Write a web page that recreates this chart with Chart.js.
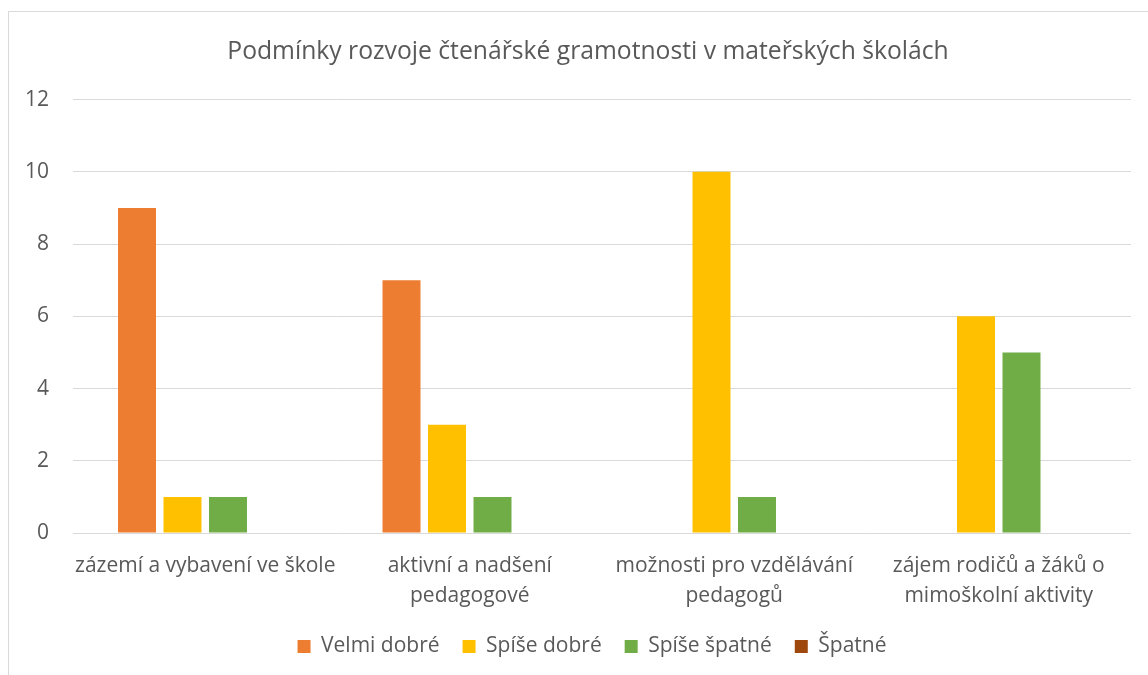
<!DOCTYPE html>
<html>
<head>
<meta charset="utf-8">
<script src="https://cdn.jsdelivr.net/npm/chart.js@4"></script>
<style>
  html, body { margin: 0; padding: 0; background: #fff; overflow: hidden; }
  #frame { position: absolute; left: 8px; top: 11px; width: 1158px; height: 700px; border: 1px solid #d9d9d9; background: #fff; }
  #wrap { position: absolute; left: 0; top: 0; width: 1158px; height: 663px; }
</style>
</head>
<body>
<div id="frame"><div id="wrap"><canvas id="c"></canvas></div></div>
<script>
const chartTitle = "Podmínky rozvoje čtenářské gramotnosti v mateřských školách";
const categories = [
  ["zázemí a vybavení ve škole"],
  ["aktivní a nadšení", "pedagogové"],
  ["možnosti pro vzdělávání", "pedagogů"],
  ["zájem rodičů a žáků o", "mimoškolní aktivity"]
];
const seriesNames = ["Velmi dobré", "Spíše dobré", "Spíše špatné", "Špatné"];
const velmiDobre = [9, 7, 0, 0];
const spiseDobre = [1, 3, 10, 6];
const spiseSpatne = [1, 1, 1, 5];
const spatne = [0, 0, 0, 0];
const seriesColors = ["#ED7D31", "#FFC000", "#70AD47", "#9E480E"];
const yTicks = [0, 2, 4, 6, 8, 10, 12];

const FONT = "'Open Sans', sans-serif";
const TEXT = "#595959";
const GRID = "#d9d9d9";

const seriesValues = [velmiDobre, spiseDobre, spiseSpatne, spatne];

// centre title and legend on the whole frame (as in the reference), not on the padded area
const centreShift = {
  id: 'centreShift',
  afterLayout(chart) {
    const dx = 18;
    [chart.titleBlock, chart.legend].forEach(b => {
      if (b) { b.left += dx; b.right += dx; }
    });
    if (chart.legend) { chart.legend.left += 4; chart.legend.right += 4; }
  }
};

new Chart(document.getElementById('c'), {
  type: 'bar',
  data: {
    labels: categories,
    datasets: seriesNames.map((n, i) => ({
      label: n,
      data: seriesValues[i],
      backgroundColor: seriesColors[i],
      borderWidth: 0,
      barPercentage: 0.835,
      categoryPercentage: 0.688
    }))
  },
  options: {
    responsive: true,
    maintainAspectRatio: false,
    animation: false,
    layout: { padding: { left: 0, right: 36, top: 0, bottom: 8 } },
    plugins: {
      title: {
        display: true,
        text: chartTitle,
        color: TEXT,
        font: { family: FONT, size: 24.7, weight: 'normal' },
        padding: { top: 25, bottom: 33 }
      },
      legend: {
        display: true,
        position: 'bottom',
        labels: {
          color: TEXT,
          font: { family: FONT, size: 21 },
          boxWidth: 13,
          boxHeight: 13,
          padding: 23
        }
      },
      tooltip: { enabled: false }
    },
    scales: {
      x: {
        grid: { display: false, drawTicks: false },
        border: { display: false },
        ticks: {
          color: TEXT,
          font: { family: FONT, size: 21, lineHeight: 1.43 },
          padding: 18,
          maxRotation: 0,
          autoSkip: false
        },
        afterFit(scale) { scale.height = 80; }
      },
      y: {
        min: 0,
        max: 12,
        afterBuildTicks(scale) { scale.ticks = yTicks.map(v => ({ value: v })); },
        grid: { color: GRID, lineWidth: 1, drawTicks: false },
        border: { display: false },
        ticks: {
          color: TEXT,
          font: { family: FONT, size: 21 },
          padding: 24
        },
        afterFit(scale) { scale.width = 64; }
      }
    }
  },
  plugins: [centreShift]
});
</script>
</body>
</html>
